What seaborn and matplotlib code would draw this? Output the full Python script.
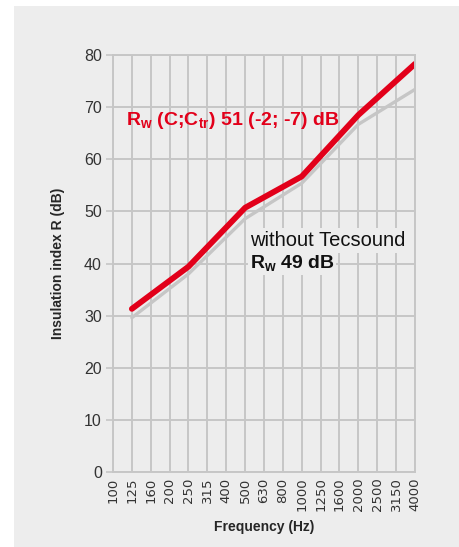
import numpy as np
import pandas as pd
import seaborn as sns
import matplotlib.pyplot as plt
from matplotlib.patches import Rectangle

# third-octave bands on the x axis
bands = ['100', '125', '160', '200', '250', '315', '400', '500', '630', '800',
         '1000', '1250', '1600', '2000', '2500', '3150', '4000']
y_ticks = [0, 10, 20, 30, 40, 50, 60, 70, 80]

# read at the octave points
freq_points = ['125', '250', '500', '1000', '2000', '4000']
with_tecsound = [31.3, 39.4, 50.7, 56.7, 68.5, 78.3]
without_tecsound = [29.6, 38.0, 48.6, 55.4, 66.7, 73.4]

df = pd.DataFrame({
    'band': [bands.index(f) for f in freq_points] * 2,
    'R': without_tecsound + with_tecsound,
    'series': ['without'] * len(freq_points) + ['with'] * len(freq_points),
})

sns.set_style('whitegrid')
plt.rcParams['font.family'] = ['Liberation Sans', 'DejaVu Sans']

bg = '#ededed'
grid_c = '#c6c6c6'
red = '#e2001a'

fig = plt.figure(figsize=(4.6, 5.47), dpi=100)
fig.patches.append(Rectangle((14 / 460, 0), 1, 1 - 6 / 547, transform=fig.transFigure,
                             facecolor=bg, edgecolor='none', zorder=-10))
ax = fig.add_axes([113 / 460, 1 - 472 / 547, 302 / 460, 417 / 547])
ax.set_facecolor(bg)

sns.lineplot(data=df, x='band', y='R', hue='series', hue_order=['without', 'with'],
             palette={'without': '#c6c6c6', 'with': red}, size='series',
             sizes={'without': 2.4, 'with': 4.2}, legend=False, ax=ax)

ax.set_xlim(0, len(bands) - 1)
ax.set_ylim(0, 80)
ax.set_xticks(range(len(bands)))
ax.set_xticklabels(bands, rotation=90, fontsize=9.5, color='#333333', family='DejaVu Sans')
ax.set_yticks(y_ticks)
ax.set_yticklabels([str(v) for v in y_ticks], fontsize=11.5, color='#333333')
ax.grid(True, color=grid_c, linewidth=1.4)
ax.tick_params(axis='y', length=5, width=1.2, color=grid_c, pad=3, left=True)
ax.tick_params(axis='x', length=0, pad=4)
for s in ax.spines.values():
    s.set_color(grid_c)
    s.set_linewidth(1.4)

ax.set_xlabel('Frequency (Hz)', fontsize=10, fontweight='bold', labelpad=6)
ax.set_ylabel('Insulation index R (dB)', fontsize=10, fontweight='bold', labelpad=14)

ax.text(0.7, 67.5, r'R$_\mathregular{w}$ (C;C$_\mathregular{tr}$) 51 (-2; -7) dB',
        color=red, fontsize=14, fontweight='bold', va='center')
ax.text(7.25, 44.4, 'without Tecsound', color='#111111', fontsize=14.5,
        va='center', bbox=dict(facecolor=bg, edgecolor='none', pad=2))
ax.text(7.25, 40.0, r'R$_\mathregular{w}$ 49 dB', color='#111111', fontsize=14,
        fontweight='bold', va='center',
        bbox=dict(facecolor=bg, edgecolor='none', pad=1))

fig.savefig('out.png', dpi=100)
